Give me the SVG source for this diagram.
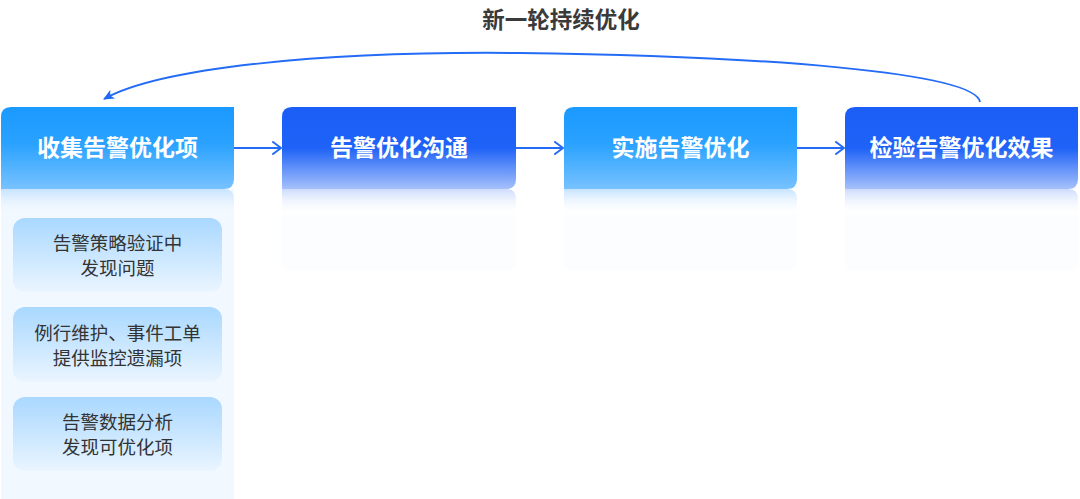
<svg xmlns="http://www.w3.org/2000/svg" width="1080" height="499" viewBox="0 0 1080 499">
<defs>
<linearGradient id="gLight" x1="0" y1="0" x2="0" y2="1">
<stop offset="0" stop-color="#1a99ff"/>
<stop offset="0.45" stop-color="#2aa2ff"/>
<stop offset="1" stop-color="#78c2ff"/>
</linearGradient>
<linearGradient id="gDark" x1="0" y1="0" x2="0" y2="1">
<stop offset="0" stop-color="#1a5ef7"/>
<stop offset="0.5" stop-color="#1f62f7"/>
<stop offset="1" stop-color="#a6c1fb"/>
</linearGradient>
<linearGradient id="rLight" x1="0" y1="0" x2="0" y2="1">
<stop offset="0" stop-color="#c6e3ff"/>
<stop offset="1" stop-color="#ffffff" stop-opacity="0"/>
</linearGradient>
<linearGradient id="rDark" x1="0" y1="0" x2="0" y2="1">
<stop offset="0" stop-color="#ccdbfc"/>
<stop offset="1" stop-color="#ffffff" stop-opacity="0"/>
</linearGradient>
<linearGradient id="gSub" x1="0" y1="0" x2="0" y2="1">
<stop offset="0" stop-color="#a9d8ff"/>
<stop offset="1" stop-color="#eaf5ff"/>
</linearGradient>
<marker id="chev" viewBox="0 0 10 14" refX="9" refY="7" markerWidth="10" markerHeight="14" markerUnits="userSpaceOnUse" orient="auto">
<path d="M1 1 L9 7 L1 13" fill="none" stroke="#246cf5" stroke-width="2" stroke-linecap="round" stroke-linejoin="round"/>
</marker>
<marker id="tri" viewBox="0 0 12 12" refX="10" refY="6" markerWidth="12" markerHeight="12" markerUnits="userSpaceOnUse" orient="auto">
<path d="M0 1 L11 6 L0 11 L3 6 Z" fill="#1f6af5"/>
</marker>
</defs>
<style>
.hd{font-family:"Noto Sans CJK SC","Noto Sans",sans-serif;font-size:23px;font-weight:700;fill:#ffffff;text-anchor:middle}
.sb{font-family:"Noto Sans CJK SC","Noto Sans",sans-serif;font-size:18.5px;fill:#333333;text-anchor:middle}
.tt{font-family:"Noto Sans CJK SC","Noto Sans",sans-serif;font-size:22.5px;font-weight:700;fill:#3a3a3a;text-anchor:middle}
.ln{fill:none;stroke:#246cf5;stroke-width:2}
.ghost{fill:#fcfdff}
</style>
<rect width="1080" height="499" fill="#ffffff"/>

<g id="panel1">
<rect x="1" y="189" width="233" height="310" fill="#f2f8ff"/>
<path d="M1 189 H224 Q234 189 234 199 V219 H1 Z" fill="url(#rLight)"/>
</g>

<g id="node1">
<path d="M11 107 H234 V179 Q234 189 224 189 H1 V117 Q1 107 11 107 Z" fill="url(#gLight)"/>
<text class="hd" x="117.5" y="156">收集告警优化项</text>
</g>
<g id="node2">
<path d="M292 107 H516 V179 Q516 189 506 189 H282 V117 Q282 107 292 107 Z" fill="url(#gDark)"/>
<path class="ghost" d="M282 215 H516 V261 Q516 271 506 271 H292 Q282 271 282 261 Z"/>
<path d="M282 189 H506 Q516 189 516 199 V216 H282 Z" fill="url(#rDark)"/>
<text class="hd" x="399" y="156">告警优化沟通</text>
</g>
<g id="node3">
<path d="M574 107 H797 V179 Q797 189 787 189 H564 V117 Q564 107 574 107 Z" fill="url(#gLight)"/>
<path class="ghost" d="M564 215 H797 V261 Q797 271 787 271 H574 Q564 271 564 261 Z"/>
<path d="M564 189 H787 Q797 189 797 199 V216 H564 Z" fill="url(#rLight)"/>
<text class="hd" x="680.5" y="156">实施告警优化</text>
</g>
<g id="node4">
<path d="M855 107 H1078 V179 Q1078 189 1068 189 H845 V117 Q845 107 855 107 Z" fill="url(#gDark)"/>
<path class="ghost" d="M845 215 H1078 V261 Q1078 271 1068 271 H855 Q845 271 845 261 Z"/>
<path d="M845 189 H1068 Q1078 189 1078 199 V216 H845 Z" fill="url(#rDark)"/>
<text class="hd" x="961.5" y="156">检验告警优化效果</text>
</g>

<g id="sub1">
<rect x="13" y="218" width="209" height="74" rx="12" fill="url(#gSub)"/>
<text class="sb" x="117.5" y="250">告警策略验证中</text>
<text class="sb" x="117.5" y="275">发现问题</text>
</g>
<g id="sub2">
<rect x="13" y="307" width="209" height="75" rx="12" fill="url(#gSub)"/>
<text class="sb" x="117.5" y="340">例行维护、事件工单</text>
<text class="sb" x="117.5" y="365">提供监控遗漏项</text>
</g>
<g id="sub3">
<rect x="13" y="397" width="209" height="74" rx="12" fill="url(#gSub)"/>
<text class="sb" x="117.5" y="429">告警数据分析</text>
<text class="sb" x="117.5" y="454">发现可优化项</text>
</g>

<g id="title">
<text class="tt" x="561" y="28">新一轮持续优化</text>
</g>

<g id="connectors">
<line class="ln" x1="234" y1="148" x2="281" y2="148" marker-end="url(#chev)"/>
<line class="ln" x1="516" y1="148" x2="563" y2="148" marker-end="url(#chev)"/>
<line class="ln" x1="797" y1="148" x2="844" y2="148" marker-end="url(#chev)"/>
<path class="ln" d="M980 102 C975 72 760 56 520 53 C320 51 160 68 104 99" marker-end="url(#tri)"/>
</g>
</svg>
